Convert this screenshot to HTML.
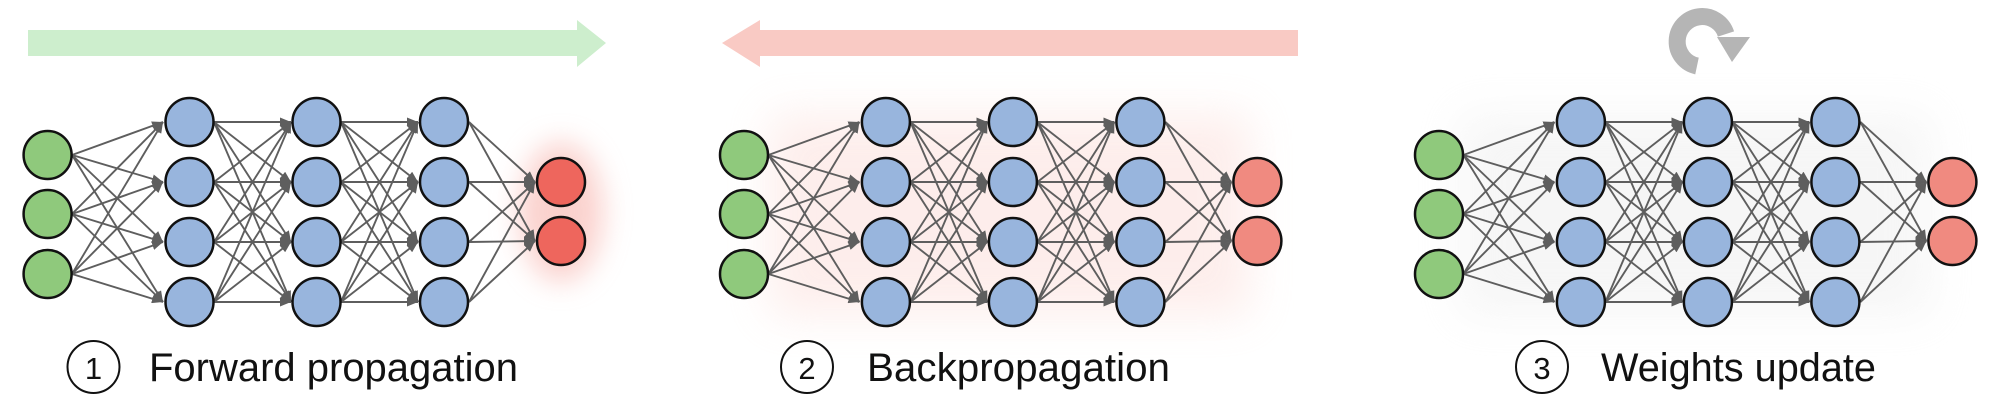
<!DOCTYPE html>
<html><head><meta charset="utf-8"><style>
html,body{margin:0;padding:0;background:#fff;}
svg{display:block;}
text{font-family:"Liberation Sans",Arial,sans-serif;fill:#111;}
</style></head><body>
<svg width="2000" height="400" viewBox="0 0 2000 400" xmlns="http://www.w3.org/2000/svg">
<defs>
<marker id="ah" markerUnits="userSpaceOnUse" markerWidth="11" markerHeight="9" refX="11" refY="4.5" orient="auto">
<path d="M0,0 L11,4.5 L0,9 z" fill="#5e5e5e"/>
</marker>
<filter id="bl" x="-50%" y="-50%" width="200%" height="200%"><feGaussianBlur stdDeviation="14"/></filter>
<filter id="bl2" x="-30%" y="-30%" width="160%" height="160%"><feGaussianBlur stdDeviation="22"/></filter>
<g id="edges" stroke="#5e5e5e" stroke-width="1.9" marker-end="url(#ah)" fill="none">
<line x1="72" y1="155" x2="163" y2="122"/><line x1="72" y1="155" x2="163" y2="182"/><line x1="72" y1="155" x2="163" y2="242"/><line x1="72" y1="155" x2="163" y2="302"/>
<line x1="72" y1="214" x2="163" y2="122"/><line x1="72" y1="214" x2="163" y2="182"/><line x1="72" y1="214" x2="163" y2="242"/><line x1="72" y1="214" x2="163" y2="302"/>
<line x1="72" y1="274" x2="163" y2="122"/><line x1="72" y1="274" x2="163" y2="182"/><line x1="72" y1="274" x2="163" y2="242"/><line x1="72" y1="274" x2="163" y2="302"/>
<line x1="214" y1="122" x2="291" y2="122"/><line x1="214" y1="122" x2="291" y2="182"/><line x1="214" y1="122" x2="291" y2="242"/><line x1="214" y1="122" x2="291" y2="302"/>
<line x1="214" y1="182" x2="291" y2="122"/><line x1="214" y1="182" x2="291" y2="182"/><line x1="214" y1="182" x2="291" y2="242"/><line x1="214" y1="182" x2="291" y2="302"/>
<line x1="214" y1="242" x2="291" y2="122"/><line x1="214" y1="242" x2="291" y2="182"/><line x1="214" y1="242" x2="291" y2="242"/><line x1="214" y1="242" x2="291" y2="302"/>
<line x1="214" y1="302" x2="291" y2="122"/><line x1="214" y1="302" x2="291" y2="182"/><line x1="214" y1="302" x2="291" y2="242"/><line x1="214" y1="302" x2="291" y2="302"/>
<line x1="341" y1="122" x2="418" y2="122"/><line x1="341" y1="122" x2="418" y2="182"/><line x1="341" y1="122" x2="418" y2="242"/><line x1="341" y1="122" x2="418" y2="302"/>
<line x1="341" y1="182" x2="418" y2="122"/><line x1="341" y1="182" x2="418" y2="182"/><line x1="341" y1="182" x2="418" y2="242"/><line x1="341" y1="182" x2="418" y2="302"/>
<line x1="341" y1="242" x2="418" y2="122"/><line x1="341" y1="242" x2="418" y2="182"/><line x1="341" y1="242" x2="418" y2="242"/><line x1="341" y1="242" x2="418" y2="302"/>
<line x1="341" y1="302" x2="418" y2="122"/><line x1="341" y1="302" x2="418" y2="182"/><line x1="341" y1="302" x2="418" y2="242"/><line x1="341" y1="302" x2="418" y2="302"/>
<line x1="469" y1="122" x2="535" y2="182"/><line x1="469" y1="122" x2="535" y2="241"/>
<line x1="469" y1="182" x2="535" y2="182"/><line x1="469" y1="182" x2="535" y2="241"/>
<line x1="469" y1="242" x2="535" y2="182"/><line x1="469" y1="242" x2="535" y2="241"/>
<line x1="469" y1="302" x2="535" y2="182"/><line x1="469" y1="302" x2="535" y2="241"/>
</g>
<g id="nodes" stroke="#111" stroke-width="2.5">
<circle cx="47.6" cy="155" r="24" fill="#8fc97c"/><circle cx="47.6" cy="214" r="24" fill="#8fc97c"/><circle cx="47.6" cy="274" r="24" fill="#8fc97c"/>
<circle cx="189.5" cy="122" r="24" fill="#98b5dd"/><circle cx="189.5" cy="182" r="24" fill="#98b5dd"/><circle cx="189.5" cy="242" r="24" fill="#98b5dd"/><circle cx="189.5" cy="302" r="24" fill="#98b5dd"/>
<circle cx="316.5" cy="122" r="24" fill="#98b5dd"/><circle cx="316.5" cy="182" r="24" fill="#98b5dd"/><circle cx="316.5" cy="242" r="24" fill="#98b5dd"/><circle cx="316.5" cy="302" r="24" fill="#98b5dd"/>
<circle cx="444" cy="122" r="24" fill="#98b5dd"/><circle cx="444" cy="182" r="24" fill="#98b5dd"/><circle cx="444" cy="242" r="24" fill="#98b5dd"/><circle cx="444" cy="302" r="24" fill="#98b5dd"/>
</g>
</defs>

<!-- Panel 1 -->
<polygon points="28,30 577,30 577,20 606,43 577,67 577,56 28,56" fill="#cdeecd"/>
<ellipse cx="561" cy="212" rx="42" ry="70" fill="#f6a49c" opacity="0.5" filter="url(#bl)"/>
<use href="#edges"/>
<use href="#nodes"/>
<circle cx="561" cy="182" r="24" fill="#ee665d" stroke="#111" stroke-width="2.5"/>
<circle cx="561" cy="241" r="24" fill="#ee665d" stroke="#111" stroke-width="2.5"/>
<circle cx="93.5" cy="367" r="26" fill="none" stroke="#111" stroke-width="2"/>
<text x="93.5" y="379" font-size="31" text-anchor="middle">1</text>
<text x="149" y="381" font-size="40" textLength="369" lengthAdjust="spacingAndGlyphs">Forward propagation</text>

<!-- Panel 2 -->
<polygon points="1298,30 760,30 760,20 722,43 760,67 760,56 1298,56" fill="#f9cac4"/>
<rect x="770" y="115" width="480" height="200" fill="#fbd9d4" opacity="0.45" filter="url(#bl2)"/>
<g transform="translate(696.4,0)">
<use href="#edges"/>
<use href="#nodes"/>
<circle cx="561" cy="182" r="24" fill="#f08a80" stroke="#111" stroke-width="2.5"/>
<circle cx="561" cy="241" r="24" fill="#f08a80" stroke="#111" stroke-width="2.5"/>
</g>
<circle cx="807" cy="367" r="26" fill="none" stroke="#111" stroke-width="2"/>
<text x="807" y="379" font-size="31" text-anchor="middle">2</text>
<text x="867" y="381" font-size="40" textLength="303" lengthAdjust="spacingAndGlyphs">Backpropagation</text>

<!-- Panel 3 -->
<path d="M1697,66 A25,25 0 1 1 1726,34" fill="none" stroke="#b5b5b5" stroke-width="17"/>
<polygon points="1717,37 1750,37 1732,62" fill="#b5b5b5"/>
<rect x="1460" y="115" width="470" height="200" fill="#e6e6e6" opacity="0.35" filter="url(#bl2)"/>
<g transform="translate(1391.4,0)">
<use href="#edges"/>
<use href="#nodes"/>
<circle cx="561" cy="182" r="24" fill="#f08a80" stroke="#111" stroke-width="2.5"/>
<circle cx="561" cy="241" r="24" fill="#f08a80" stroke="#111" stroke-width="2.5"/>
</g>
<circle cx="1542" cy="367" r="26" fill="none" stroke="#111" stroke-width="2"/>
<text x="1542" y="379" font-size="31" text-anchor="middle">3</text>
<text x="1601" y="381" font-size="40" textLength="275" lengthAdjust="spacingAndGlyphs">Weights update</text>
</svg>
</body></html>
